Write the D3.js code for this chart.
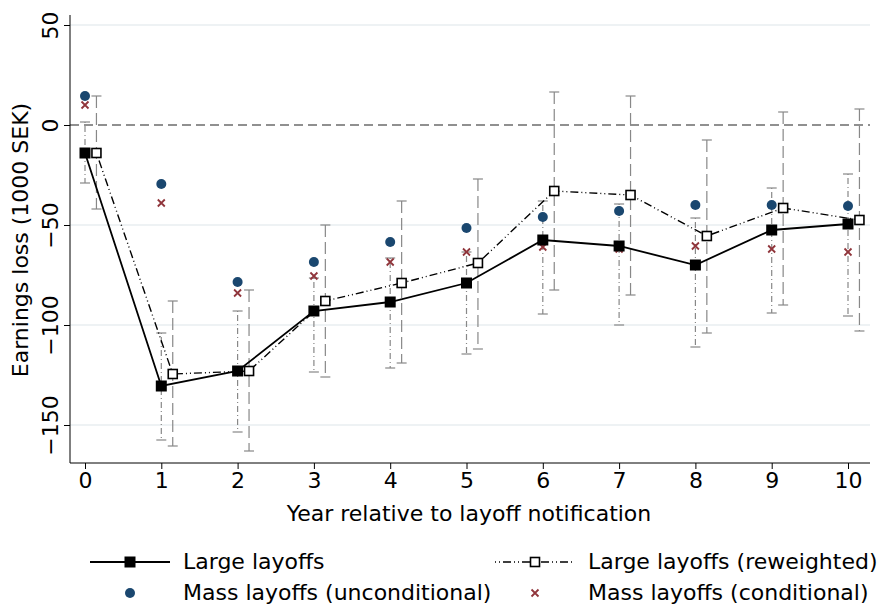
<!DOCTYPE html>
<html><head><meta charset="utf-8">
<script src="https://cdn.jsdelivr.net/npm/d3@7"></script>
<style>body{margin:0;background:#fff;font-family:"DejaVu Sans",sans-serif}</style>
</head><body><div id="chart"></div>
<script>
const years = [0,1,2,3,4,5,6,7,8,9,10];
const large = [-14,-130.5,-123,-93,-88.5,-79,-57.5,-60.5,-70,-52.5,-49.5];
const largeHi = [1.5,-104,-93,-76.5,-66.5,-63.5,-38,-39.5,-46.5,-31.5,-24.5];
const largeLo = [-29,-157.5,-153.5,-123.5,-121.5,-114.5,-94.5,-100,-111,-94,-95.5];
const rew = [-14,-124.5,-123,-88,-79,-69,-33,-35,-55.5,-41.5,-47.5];
const rewHi = [14.5,-88,-82.5,-50,-38,-27,16.5,14.5,-7.5,6.5,8];
const rewLo = [-42,-160.5,-163,-126,-119,-112,-82.5,-85,-104,-90,-103];
const massUncond = [14.5,-29.5,-78.5,-68.5,-58.5,-51.5,-46,-43,-40,-40,-40.5];
const massCond = [10,-39,-84,-75.5,-68.5,-63.5,-61,-62,-60.5,-62,-63.5];
const yTicks = [50,0,-50,-100,-150];

const W = 893, H = 610, FS = "22px";
const svg = d3.select("#chart").append("svg").attr("width", W).attr("height", H);
const x = d3.scaleLinear().domain([0,10]).range([85,848]);
const y = d3.scaleLinear().domain([-169,55]).range([463,15]);
const off = 0.15;

// gridlines
svg.append("g").selectAll("line").data(yTicks.filter(d => d !== 0)).join("line")
  .attr("x1",70).attr("x2",870).attr("y1",d=>y(d)).attr("y2",d=>y(d))
  .attr("stroke","#e8eef1").attr("stroke-width",1.5);
svg.append("line").attr("x1",70).attr("x2",870).attr("y1",y(0)).attr("y2",y(0))
  .attr("stroke","#222").attr("stroke-dasharray","9,5").attr("stroke-width",1.2);

// CIs
function ci(lo, hi, dx, dash) {
  const g = svg.append("g").attr("stroke","#888").attr("stroke-width",1.2);
  years.forEach((yr,i) => {
    const xx = x(yr+dx);
    g.append("line").attr("x1",xx).attr("x2",xx).attr("y1",y(hi[i])).attr("y2",y(lo[i])).attr("stroke-dasharray",dash);
    [hi[i],lo[i]].forEach(v => g.append("line").attr("x1",xx-5).attr("x2",xx+5).attr("y1",y(v)).attr("y2",y(v)));
  });
}
ci(largeLo, largeHi, 0, "1,3,6,3");
ci(rewLo, rewHi, off, "12,5");

const line = dx => d3.line().x((d,i)=>x(years[i]+dx)).y(d=>y(d));
svg.append("path").datum(large).attr("d",line(0)).attr("fill","none").attr("stroke","#000").attr("stroke-width",1.8);
svg.append("path").datum(rew).attr("d",line(off)).attr("fill","none").attr("stroke","#000").attr("stroke-width",1.4).attr("stroke-dasharray","1,3,1,3,8,3");

svg.append("g").selectAll("circle").data(massUncond).join("circle")
  .attr("cx",(d,i)=>x(years[i])).attr("cy",d=>y(d)).attr("r",5).attr("fill","#1a476f");
svg.append("g").selectAll("path").data(massCond).join("path")
  .attr("transform",(d,i)=>`translate(${x(years[i])},${y(d)})`)
  .attr("d","M-3.5,-3.5L3.5,3.5M-3.5,3.5L3.5,-3.5").attr("stroke","#90353b").attr("stroke-width",1.8);

svg.append("g").selectAll("rect").data(large).join("rect")
  .attr("x",(d,i)=>x(years[i])-5.5).attr("y",d=>y(d)-5.5).attr("width",11).attr("height",11).attr("fill","#000");
svg.append("g").selectAll("rect").data(rew).join("rect")
  .attr("x",(d,i)=>x(years[i]+off)-4.5).attr("y",d=>y(d)-4.5).attr("width",9).attr("height",9)
  .attr("fill","#fff").attr("stroke","#000").attr("stroke-width",1.6);

// axes
const xa = svg.append("g").attr("transform","translate(0,463)")
  .call(d3.axisBottom(x).tickValues(years).tickFormat(d3.format("d")).tickSize(6));
xa.select(".domain").attr("d","M70,0H870");
xa.selectAll("text").attr("y",9);
const ya = svg.append("g").attr("transform","translate(70,0)")
  .call(d3.axisLeft(y).tickValues(yTicks).tickSize(6));
ya.select(".domain").attr("d","M0,"+y(55)+"V463");
ya.selectAll(".tick text").attr("x",null).attr("dy",null).attr("y",null)
  .attr("transform","translate(-12,0) rotate(-90)").attr("text-anchor","middle");
svg.selectAll(".tick text").style("font-size",FS).style("font-family","DejaVu Sans").attr("fill","#000");
svg.selectAll(".domain,.tick line").attr("stroke","#000");

svg.append("text").attr("x",469).attr("y",521).attr("text-anchor","middle").style("font-size",FS).text("Year relative to layoff notification");
svg.append("text").attr("transform","translate(28,240) rotate(-90)").attr("text-anchor","middle").style("font-size",FS).text("Earnings loss (1000 SEK)");

// legend
const lg = svg.append("g").style("font-size",FS);
lg.append("line").attr("x1",90).attr("x2",170).attr("y1",562).attr("y2",562).attr("stroke","#000").attr("stroke-width",1.8);
lg.append("rect").attr("x",124.5).attr("y",556.5).attr("width",11).attr("height",11);
lg.append("text").attr("x",183).attr("y",569).text("Large layoffs");
lg.append("line").attr("x1",495).attr("x2",575).attr("y1",562).attr("y2",562).attr("stroke","#000").attr("stroke-dasharray","1,3,1,3,8,3").attr("stroke-width",1.4);
lg.append("rect").attr("x",530.5).attr("y",557.5).attr("width",9).attr("height",9).attr("fill","#fff").attr("stroke","#000").attr("stroke-width",1.6);
lg.append("text").attr("x",588).attr("y",569).text("Large layoffs (reweighted)");
lg.append("circle").attr("cx",130).attr("cy",593).attr("r",5).attr("fill","#1a476f");
lg.append("text").attr("x",183).attr("y",600).text("Mass layoffs (unconditional)");
lg.append("path").attr("transform","translate(535,593)").attr("d","M-3.5,-3.5L3.5,3.5M-3.5,3.5L3.5,-3.5").attr("stroke","#90353b").attr("stroke-width",1.8);
lg.append("text").attr("x",588).attr("y",600).text("Mass layoffs (conditional)");
</script></body></html>
